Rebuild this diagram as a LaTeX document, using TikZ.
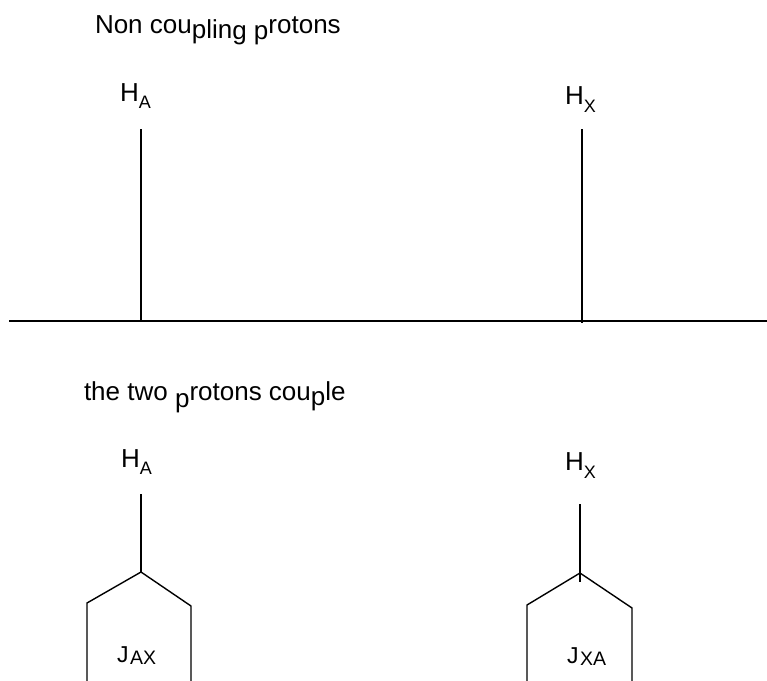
\documentclass[tikz,border=0pt]{standalone}
\usepackage{fontspec}
\setmainfont{Liberation Sans}
\newcommand{\bigtxt}{\fontsize{26}{30}\selectfont}
\newcommand{\midtxt}{\fontsize{23}{27}\selectfont}
\newcommand{\subtxt}{\fontsize{18}{21}\selectfont}
\newcommand{\jsubtxt}{\fontsize{19.5}{23}\selectfont}
\newcommand{\lowsub}[2]{\raisebox{-#1pt}{\subtxt #2}}
\newcommand{\jsub}[1]{\raisebox{-2.5pt}{\jsubtxt #1}}
\begin{document}
\begin{tikzpicture}[x=1pt,y=-1pt,
  lbl/.style={anchor=base west,inner sep=0pt,outer sep=0pt},
  peak/.style={line width=1.5pt},
  split/.style={line width=1.4pt,line join=miter},
  axis/.style={line width=2pt}]
\useasboundingbox (0,0) rectangle (767,680);
% titles
\node[lbl,font=\bigtxt] (t1) at (95,33) {Non cou\raisebox{-5pt}{plin}\raisebox{-6.5pt}{g} \raisebox{-6pt}{p}rotons};
\node[lbl,font=\bigtxt] (t2) at (84,400) {the two \raisebox{-7pt}{p}rotons cou\raisebox{-5pt}{p}le};
% top labels
\node[lbl,font=\bigtxt] (ha1) at (120,101) {H\lowsub{7}{A}};
\node[lbl,font=\bigtxt] (hx1) at (565,104) {H\lowsub{8}{X}};
% bottom labels
\node[lbl,font=\bigtxt] (ha2) at (121,467) {H\lowsub{7}{A}};
\node[lbl,font=\bigtxt] (hx2) at (565,470) {H\lowsub{8}{X}};
\node[lbl,font=\midtxt] (jax) at (117,662) {J\kern1.5pt\jsub{AX}};
\node[lbl,font=\midtxt] (jxa) at (567,663) {J\kern1.5pt\jsub{XA}};
% top spectrum
\coordinate (axL) at (9,321);
\coordinate (axR) at (767,321);
\coordinate (pA) at (141,129);
\coordinate (pAb) at (141,321);
\coordinate (pX) at (582,129);
\coordinate (pXb) at (582,323);
\draw[axis] (axL) -- (axR);
\draw[peak] (pA) -- (pAb);
\draw[peak] (pX) -- (pXb);
% bottom: HA doublet
\coordinate (sA) at (141,494);
\coordinate (vA) at (141,572);
\coordinate (lA) at (87,603);
\coordinate (lAb) at (87,681);
\coordinate (rA) at (191,606);
\coordinate (rAb) at (191,681);
\draw[split] (sA) -- (vA);
\draw[split] (lAb) -- (lA) -- (vA) -- (rA) -- (rAb);
% bottom: HX doublet
\coordinate (sX) at (580,504);
\coordinate (sXb) at (580,582);
\coordinate (vX) at (580,573);
\coordinate (lX) at (527,605);
\coordinate (lXb) at (527,681);
\coordinate (rX) at (632,608);
\coordinate (rXb) at (632,681);
\draw[split] (sX) -- (sXb);
\draw[split] (lXb) -- (lX) -- (vX) -- (rX) -- (rXb);
\end{tikzpicture}
\end{document}
